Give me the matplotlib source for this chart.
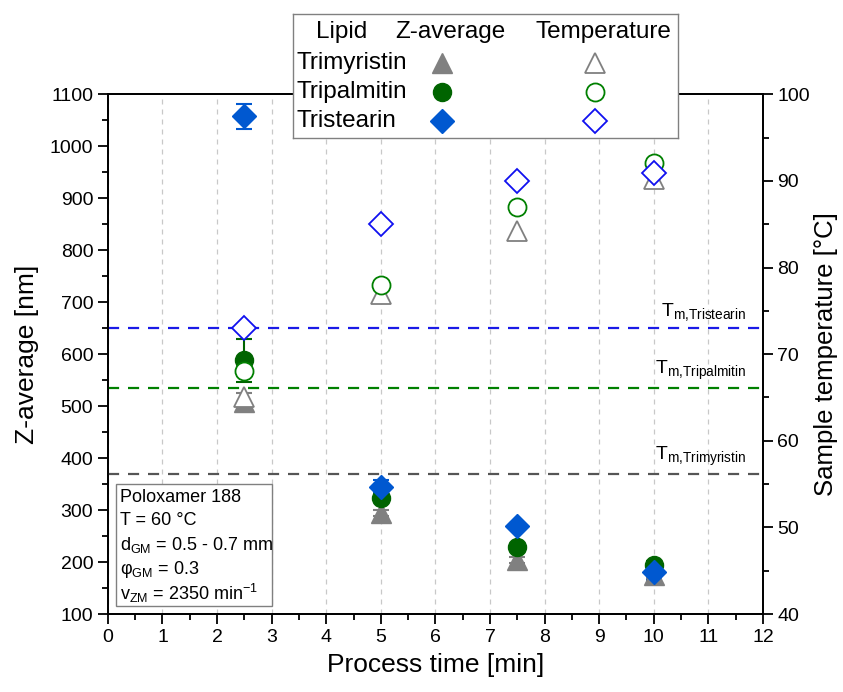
import numpy as np
import matplotlib.pyplot as plt
from matplotlib.patches import Rectangle
from matplotlib.lines import Line2D

plt.rcParams['font.family'] = ['Liberation Sans', 'DejaVu Sans']
plt.rcParams['mathtext.fontset'] = 'custom'
plt.rcParams['mathtext.rm'] = 'Liberation Sans'
plt.rcParams['mathtext.it'] = 'Liberation Sans:italic'

time_min = [2.5, 5.0, 7.5, 10.0]
lipids = ["Trimyristin", "Tripalmitin", "Tristearin"]

# Z-average [nm] and error
z_trimyristin = [508, 294, 204, 175]
z_tripalmitin = [588, 324, 229, 194]
z_tristearin = [1058, 345, 269, 181]
zerr_trimyristin = [18, 6, 5, 6]
zerr_tripalmitin = [42, 8, 6, 8]
zerr_tristearin = [24, 12, 6, 15]

# sample temperature [°C]
t_trimyristin = [65.1, 77.0, 84.2, 90.2]
t_tripalmitin = [68.0, 78.0, 87.0, 92.1]
t_tristearin = [73.0, 85.0, 90.0, 90.9]

# melting temperatures [°C]
tm_values = [56.2, 66.1, 73.0]

fill_cols = ["#808080", "#006400", "#0058D0"]
open_cols = ["#808080", "#008000", "#1010F0"]
line_cols = ["#555555", "#008000", "#1a1ae6"]
markers = ["^", "o", "D"]
msizes = [15, 13, 12.5]

z_data = [z_trimyristin, z_tripalmitin, z_tristearin]
z_errs = [zerr_trimyristin, zerr_tripalmitin, zerr_tristearin]
t_data = [t_trimyristin, t_tripalmitin, t_tristearin]

fig = plt.figure(figsize=(8.43, 6.92), dpi=100)
ax = fig.add_axes([0.128, 0.1127, 0.777, 0.751])
ax2 = ax.twinx()

for i in range(3):
    ax.errorbar(time_min, z_data[i], yerr=z_errs[i], fmt=markers[i], ms=msizes[i],
                color=fill_cols[i], mec=fill_cols[i], ecolor=fill_cols[i],
                elinewidth=1.5, capsize=6, capthick=1.5, zorder=3)

for i in range(3):
    ax2.plot(time_min, t_data[i], markers[i], ms=msizes[i], mfc="white",
             mec=open_cols[i], mew=1.3, zorder=3)

tm_names = ["Trimyristin", "Tripalmitin", "Tristearin"]
for i in range(3):
    ax2.axhline(tm_values[i], color=line_cols[i], ls=(0, (5, 4)), lw=1.6, zorder=2)
    ax2.annotate("$\\mathregular{T_{m{,}%s}}$" % tm_names[i], xy=(0.975, tm_values[i]),
                 xycoords=("axes fraction", "data"), xytext=(0, 4),
                 textcoords="offset points", ha="right", va="bottom", fontsize=14)

ax.set_xlim(0, 12)
ax.set_ylim(100, 1100)
ax2.set_ylim(40, 100)
ax.set_xticks(np.arange(0, 13, 1))
ax.set_xticks(np.arange(0, 12.5, 0.5), minor=True)
ax.set_yticks(np.arange(100, 1101, 100))
ax.set_yticks(np.arange(100, 1101, 50), minor=True)
ax2.set_yticks(np.arange(40, 101, 10))
ax2.set_yticks(np.arange(40, 101, 5), minor=True)

for a in (ax, ax2):
    a.tick_params(which="major", length=7, width=1.3, labelsize=14)
    a.tick_params(which="minor", length=4, width=1.3)
    for s in a.spines.values():
        s.set_linewidth(1.3)

ax.grid(axis="x", which="major", color="#c8c8c8", ls=(0, (4, 4)), lw=0.9)
ax.set_axisbelow(True)

ax.set_xlabel("Process time [min]", fontsize=19, labelpad=5)
ax.set_ylabel("Z-average [nm]", fontsize=19, labelpad=8)
ax2.set_ylabel("Sample temperature [°C]", fontsize=18.5, labelpad=3)

# info box
ax2.add_patch(Rectangle((0.012, 0.015), 0.238, 0.235, transform=ax.transAxes,
                        fill=True, fc="white", ec="#808080", lw=1.0, zorder=4))
info_lines = ["Poloxamer 188", "T = 60 °C", "d$_{\\mathregular{GM}}$ = 0.5 - 0.7 mm",
              "φ$_{\\mathregular{GM}}$ = 0.3", "v$_{\\mathregular{ZM}}$ = 2350 min$^{\\mathregular{-1}}$"]
info_y = [0.225, 0.179, 0.133, 0.0865, 0.040]
for txt, yy in zip(info_lines, info_y):
    ax2.text(0.018, yy, txt, transform=ax.transAxes, fontsize=13, va="center",
             ha="left", zorder=5)

# legend table
lg = fig.add_axes([0.3476, 0.8006, 0.4567, 0.1792])
lg.set_xlim(0, 1)
lg.set_ylim(0, 1)
lg.set_xticks([])
lg.set_yticks([])
lg.set_facecolor("white")
for s in lg.spines.values():
    s.set_edgecolor("#808080")
    s.set_linewidth(1.0)
lg.text(0.127, 0.855, "Lipid", fontsize=17.5, ha="center", va="center")
lg.text(0.408, 0.855, "Z-average", fontsize=17.5, ha="center", va="center")
lg.text(0.805, 0.855, "Temperature", fontsize=17.5, ha="center", va="center")
row_y = [0.605, 0.371, 0.137]
for i in range(3):
    lg.text(0.01, row_y[i], lipids[i], fontsize=17.5, ha="left", va="center")
    lg.add_line(Line2D([0.388], [row_y[i]], marker=markers[i], ms=msizes[i],
                       color=fill_cols[i], ls="none"))
    lg.add_line(Line2D([0.785], [row_y[i]], marker=markers[i], ms=msizes[i],
                       mfc="white", mec=open_cols[i], mew=1.3, ls="none"))

fig.savefig("out.png", dpi=100)
